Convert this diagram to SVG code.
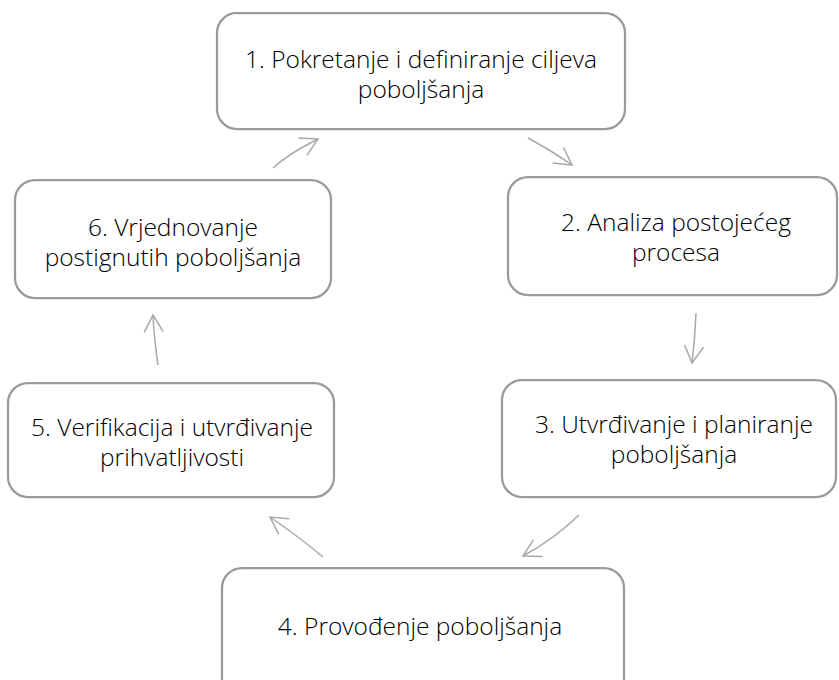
<svg xmlns="http://www.w3.org/2000/svg" width="839" height="680" viewBox="0 0 839 680">
<style>
.box{fill:#ffffff;stroke:#9a9a9a;stroke-width:2.25}
.lbl{font-family:"Open Sans","Liberation Sans",sans-serif;font-weight:300;font-size:24.5px;fill:#000000;text-anchor:middle}
.arr{fill:none;stroke:#a8a8a8;stroke-width:1.5;marker-end:url(#head)}
</style>
<defs>
<marker id="head" markerUnits="userSpaceOnUse" markerWidth="26" markerHeight="26" viewBox="-22 -13 26 26" refX="0" refY="0" orient="auto">
<path d="M-17,-9.5 L0,0 L-17,9.5" fill="none" stroke="#a8a8a8" stroke-width="1.5"/>
</marker>
</defs>
<rect width="839" height="680" fill="#ffffff"/>
<g id="connectors">
<path class="arr" d="M528,138 Q552,151 572,165"/>
<path class="arr" d="M696,313 Q695,338 692,363"/>
<path class="arr" d="M579,515 Q553,540 523,556"/>
<path class="arr" d="M323,557 Q298,536 270,517"/>
<path class="arr" d="M158,365 Q154,338 153,315"/>
<path class="arr" d="M273,168 Q288,154 318,139"/>
</g>
<g id="node1">
<rect class="box" x="217" y="13" width="408" height="116" rx="20"/>
<text class="lbl" x="421" y="68">1. Pokretanje i definiranje ciljeva</text>
<text class="lbl" x="421" y="98">poboljšanja</text>
</g>
<g id="node2">
<rect class="box" x="508" y="177" width="329" height="118" rx="20"/>
<text class="lbl" x="676" y="231">2. Analiza postojećeg</text>
<text class="lbl" x="676" y="261">procesa</text>
</g>
<g id="node3">
<rect class="box" x="502" y="380" width="334" height="117" rx="20"/>
<text class="lbl" x="674" y="433">3. Utvrđivanje i planiranje</text>
<text class="lbl" x="674" y="463">poboljšanja</text>
</g>
<g id="node4">
<rect class="box" x="222" y="568" width="402" height="130" rx="20"/>
<text class="lbl" x="420" y="635">4. Provođenje poboljšanja</text>
</g>
<g id="node5">
<rect class="box" x="8" y="383" width="326" height="114" rx="20"/>
<text class="lbl" x="172" y="436">5. Verifikacija i utvrđivanje</text>
<text class="lbl" x="172" y="466">prihvatljivosti</text>
</g>
<g id="node6">
<rect class="box" x="15" y="180" width="316" height="118" rx="20"/>
<text class="lbl" x="173" y="236">6. Vrjednovanje</text>
<text class="lbl" x="173" y="266">postignutih poboljšanja</text>
</g>
</svg>
